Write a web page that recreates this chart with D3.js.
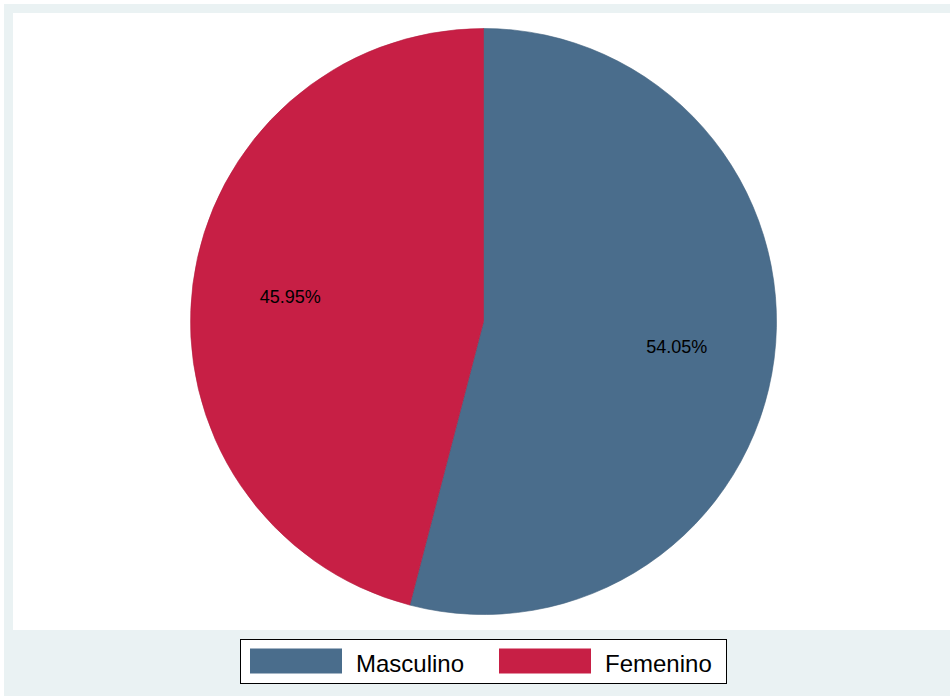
<!DOCTYPE html>
<html>
<head>
<meta charset="utf-8">
<script src="https://cdn.jsdelivr.net/npm/d3@7"></script>
<style>
  body { margin: 0; background: #ffffff; }
  text { font-family: Arial, "Liberation Sans", sans-serif; }
</style>
</head>
<body>
<div id="chart"></div>
<script>
// data
var categories = ["Masculino", "Femenino"];
var shares = [54.05, 45.95];
var sliceColors = ["#4A6D8C", "#C71F45"];

var W = 950, H = 696;

var svg = d3.select("#chart").append("svg")
    .attr("width", W)
    .attr("height", H)

// outer graph region
svg.append("rect")
    .attr("x", 4).attr("y", 4)
    .attr("width", W - 4).attr("height", H - 4)
    .attr("fill", "#EAF2F3")

// plot region
svg.append("rect")
    .attr("x", 13).attr("y", 13)
    .attr("width", W - 13).attr("height", 630 - 13)
    .attr("fill", "#ffffff")

var cx = 483.5, cy = 321.5, r = 293;

var color = d3.scaleOrdinal()
    .domain(categories)
    .range(sliceColors)

var data = categories.map(function (c, i) {
    return { name: c, value: shares[i] };
})

var pie = d3.pie()
    .sort(null)
    .value(function (d) { return d.value; })

var arc = d3.arc()
    .innerRadius(0)
    .outerRadius(r)

var labelArc = d3.arc()
    .innerRadius(r * 0.665)
    .outerRadius(r * 0.665)

var g = svg.append("g")
    .attr("transform", "translate(" + cx + "," + cy + ")")

var slices = g.selectAll("g.slice")
    .data(pie(data))
    .enter()
    .append("g")
    .attr("class", "slice")

slices.append("path")
    .attr("d", arc)
    .attr("fill", function (d) { return color(d.data.name); })
    .attr("stroke", function (d) { return d3.color(color(d.data.name)).darker(0.3); })
    .attr("stroke-width", 0.6)

slices.append("text")
    .attr("transform", function (d) {
        return "translate(" + labelArc.centroid(d) + ")";
    })
    .attr("text-anchor", "middle")
    .attr("dy", "0.35em")
    .style("font-size", "18px")
    .attr("fill", "#000")
    .text(function (d) { return d3.format(".2f")(d.data.value) + "%"; })

// legend
var legend = svg.append("g")

legend.append("rect")
    .attr("x", 240.5).attr("y", 639.5)
    .attr("width", 486).attr("height", 44)
    .attr("fill", "#ffffff")
    .attr("stroke", "#000")
    .attr("stroke-width", 1)

var legendX = d3.scaleOrdinal()
    .domain(categories)
    .range([250, 499])

var items = legend.selectAll("g.item")
    .data(categories)
    .enter()
    .append("g")
    .attr("class", "item")
    .attr("transform", function (d) { return "translate(" + legendX(d) + ",0)"; })

items.append("rect")
    .attr("x", 0).attr("y", 648.5)
    .attr("width", 92).attr("height", 25)
    .attr("fill", function (d) { return color(d); })

items.append("text")
    .attr("x", 106).attr("y", 672)
    .style("font-size", "24px")
    .attr("fill", "#000")
    .text(function (d) { return d; })
</script>
</body>
</html>
